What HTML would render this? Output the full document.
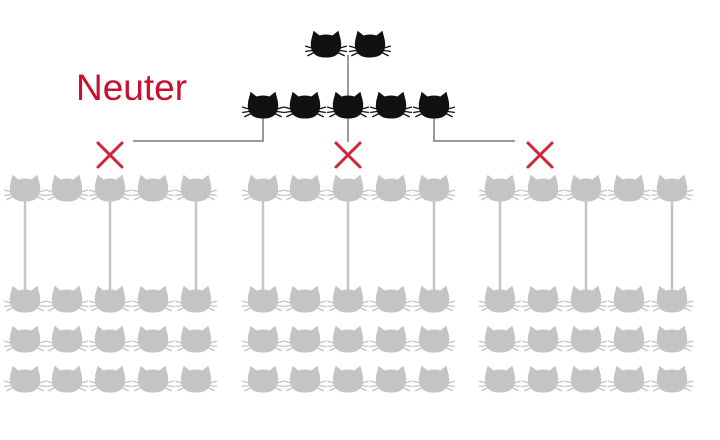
<!DOCTYPE html>
<html><head><meta charset="utf-8"><style>
html,body{margin:0;padding:0;background:#fff;}
svg{display:block;}
</style></head><body>
<svg width="720" height="440" viewBox="0 0 720 440" xmlns="http://www.w3.org/2000/svg">
<defs>
<g id="cat" transform="scale(1.1)">
<path d="M-12,-9 L-11,-13 L-6,-9 Q0,-11 6,-9 L11,-13 L12,-9 Q14,-3 13,2 Q11,10 0,10 Q-11,10 -13,2 Q-14,-3 -12,-9 Z"/>
<path d="M-12,2 L-19,0 M-12,4 L-19,5 M-11,6 L-17,9 M12,2 L19,0 M12,4 L19,5 M11,6 L17,9" fill="none" stroke-width="1.2"/>
</g>
</defs>
<text x="76" y="100" font-family="Liberation Sans, sans-serif" font-size="37" fill="#c8102e">Neuter</text>
<g stroke="#999" stroke-width="2" fill="none">
<line x1="348" y1="55" x2="348" y2="142"/>
<polyline points="263,115 263,141 133,141"/>
<polyline points="434,115 434,141 515,141"/>
</g>
<g stroke="#c5c5c5" stroke-width="2.5">
<line x1="25" y1="198" x2="25" y2="296"/><line x1="110" y1="198" x2="110" y2="296"/><line x1="196" y1="198" x2="196" y2="296"/>
<line x1="263" y1="198" x2="263" y2="296"/><line x1="348" y1="198" x2="348" y2="296"/><line x1="434" y1="198" x2="434" y2="296"/>
<line x1="500" y1="198" x2="500" y2="296"/><line x1="586" y1="198" x2="586" y2="296"/><line x1="672" y1="198" x2="672" y2="296"/>
</g>
<g fill="#111" stroke="#111">
<use href="#cat" x="326" y="46"/><use href="#cat" x="370" y="46"/>
<use href="#cat" x="263" y="107"/><use href="#cat" x="305" y="107"/><use href="#cat" x="348" y="107"/><use href="#cat" x="391" y="107"/><use href="#cat" x="434" y="107"/>
</g>
<g fill="#c4c4c4" stroke="#c4c4c4" id="grid">
</g>
<g stroke="#d4213a" stroke-width="3" stroke-linecap="round">
<path d="M98,143 L122,167 M122,143 L98,167"/>
<path d="M336,143 L360,167 M360,143 L336,167"/>
<path d="M528,143 L552,167 M552,143 L528,167"/>
</g>
<script>
var g=document.getElementById('grid');
var cols=[25,67,110,153,196,263,305,348,391,434,500,543,586,629,672];
var rows=[190,301,341,381];
var ns='http://www.w3.org/2000/svg';
rows.forEach(function(y){cols.forEach(function(x){var u=document.createElementNS(ns,'use');u.setAttribute('href','#cat');u.setAttribute('x',x);u.setAttribute('y',y);g.appendChild(u);});});
</script>
</svg>
</body></html>
